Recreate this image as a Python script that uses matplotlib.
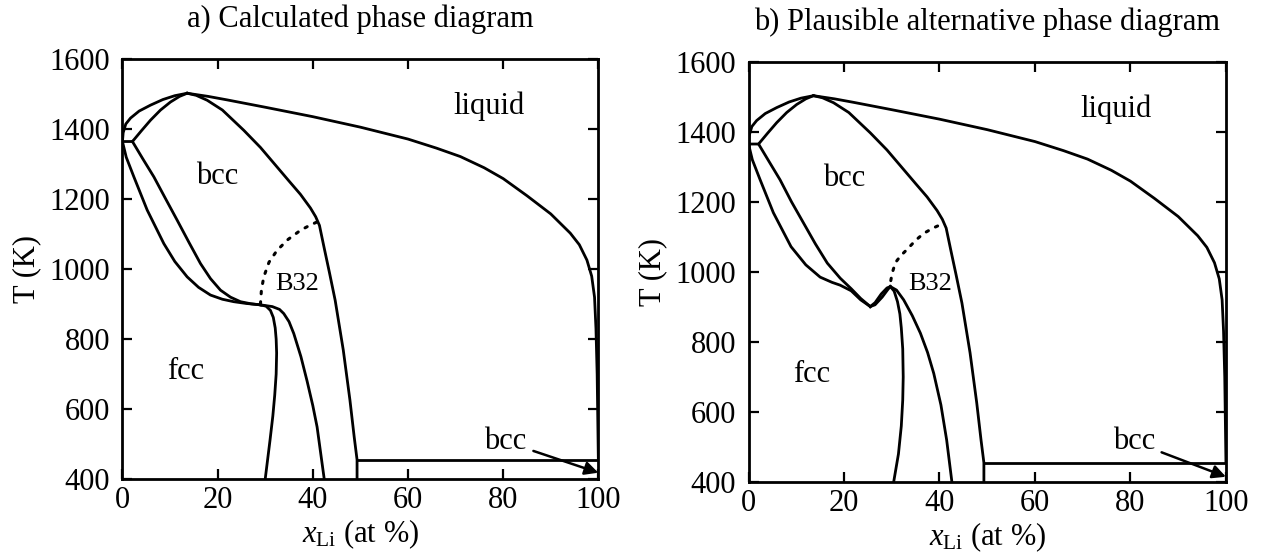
import numpy as np
import matplotlib
matplotlib.use('Agg')
import matplotlib.pyplot as plt

plt.rcParams['font.family'] = ['Liberation Serif', 'DejaVu Serif']
plt.rcParams['mathtext.fontset'] = 'custom'
plt.rcParams['mathtext.rm'] = 'Liberation Serif'
plt.rcParams['mathtext.it'] = 'Liberation Serif:italic'
plt.rcParams['font.size'] = 22

# shared boundaries (both panels)
liq_x = [0, 0.15, 0.7, 1.7, 3.5, 5.9, 8.5, 11, 13.6, 18, 22, 30, 40, 50, 60, 66, 71, 76, 80, 85, 90, 94.1, 96, 97.6, 98.6, 99.2, 99.5, 99.75, 100]
liq_T = [1365, 1390, 1415, 1432, 1452, 1469, 1485, 1496, 1503, 1494, 1484, 1463, 1436, 1406, 1372, 1346, 1322, 1290, 1259, 1210, 1158, 1103, 1070, 1026, 980, 920, 830, 700, 455]

sol_x = [0, 2.1, 4.0, 5.9, 8.0, 10.1, 12.0, 13.6]
sol_T = [1365, 1365, 1396, 1426, 1455, 1478, 1494, 1503]

bccr_x = [13.6, 15.5, 17.8, 21, 25.5, 29, 32.5, 35, 37.4, 39.5, 40.6, 41.4, 42.4, 43.5, 44.7, 46.4, 47.8, 48.7, 49.3, 49.3]
bccr_T = [1503, 1497, 1483, 1455, 1397, 1348, 1292, 1252, 1214, 1175, 1150, 1125, 1060, 990, 911, 769, 626, 520, 455, 400]

hor_x = [49.3, 100]
hor_T = [455, 455]

# panel a) calculated
a_out_x = [0, 0.8, 2.4, 5.2, 8.7, 11, 13.6, 16, 18.5, 21, 23.4, 26, 29]
a_out_T = [1365, 1320, 1264, 1169, 1073, 1022, 978, 948, 926, 914, 907, 902, 898]
a_in_x = [2.1, 4.3, 6.6, 9, 11.5, 14, 16.4, 18.5, 20.6, 22.7, 24.8, 27, 29]
a_in_T = [1365, 1315, 1264, 1203, 1140, 1076, 1016, 973, 940, 920, 907, 901, 898]
a_fcc_x = [29, 30.2, 31.1, 31.7, 32.1, 32.3, 32.4, 32.3, 32.0, 31.6, 31.0, 30.0]
a_fcc_T = [898, 894, 882, 862, 832, 800, 760, 700, 640, 580, 510, 400]
a_b32_x = [29, 31.5, 33.0, 33.9, 35, 36, 37.5, 38.8, 40.0, 40.9, 42.4]
a_b32_T = [898, 893, 885, 873, 850, 816, 750, 680, 610, 549, 400]
a_dot_x = [29, 29.2, 29.7, 30.8, 32.5, 34.8, 37.4, 39.3, 40.9]
a_dot_T = [900, 940, 978, 1020, 1054, 1085, 1111, 1125, 1135]

# panel b) plausible alternative
b_out_x = [0, 0.8, 2.4, 5.2, 8.9, 12, 15, 17.5, 19.2, 21.5, 23.5, 25.5]
b_out_T = [1365, 1320, 1264, 1169, 1072, 1020, 985, 970, 962, 946, 920, 901]
b_in_x = [2.1, 4.3, 6.6, 9, 11.5, 14, 16.5, 19.2, 21.5, 23.5, 25.5]
b_in_T = [1365, 1315, 1263, 1200, 1140, 1080, 1025, 982, 952, 924, 901]
b_up_x = [25.5, 26.5, 27.8, 29, 29.7]
b_up_T = [901, 912, 937, 954, 958]
b_lo_x = [25.5, 26.5, 28, 29.2, 29.7]
b_lo_T = [901, 906, 928, 950, 958]
b_fcc_x = [29.7, 30.5, 31.2, 31.7, 32.0, 32.3, 32.4, 32.3, 32.0, 31.4, 30.4]
b_fcc_T = [958, 945, 915, 880, 840, 780, 700, 634, 560, 480, 400]
b_b32_x = [29.7, 31, 32.5, 34.3, 36, 37.5, 38.8, 40.3, 41.5, 42.6]
b_b32_T = [958, 948, 920, 875, 825, 770, 710, 620, 520, 400]
b_dot_x = [29.8, 30.0, 30.3, 30.8, 31.8, 33.2, 35, 36.7, 38.8, 40.9]
b_dot_T = [975, 990, 1006, 1027, 1045, 1064, 1090, 1110, 1126, 1139]

xticks = [0, 20, 40, 60, 80, 100]
yticks = [400, 600, 800, 1000, 1200, 1400, 1600]

lw = 2.0
fig = plt.figure(figsize=(12.61, 5.57), dpi=100)
ax1 = fig.add_axes([0.0971, 0.140, 0.3774, 0.7535])
ax2 = fig.add_axes([0.5936, 0.1346, 0.3786, 0.7546])

def setup(ax, title):
  ax.set_xlim(0, 100)
  ax.set_ylim(400, 1600)
  ax.set_xticks(xticks)
  ax.set_yticks(yticks)
  ax.tick_params(direction='in', top=True, right=True, length=7, width=1.6)
  ax.tick_params(axis='x', pad=5)
  ax.tick_params(axis='y', pad=9)
  for s in ax.spines.values():
    s.set_linewidth(2.0)
  ax.set_xlabel(r'$x_{\mathrm{Li}}$ (at %)', labelpad=2)
  ax.set_ylabel('T (K)', labelpad=6)
  ax.set_title(title, fontsize=22, pad=23)
  ax.plot(liq_x, liq_T, 'k-', lw=lw)
  ax.plot(sol_x, sol_T, 'k-', lw=lw)
  ax.plot(bccr_x, bccr_T, 'k-', lw=lw)
  ax.plot(hor_x, hor_T, 'k-', lw=lw)
  ax.text(77, 1465, 'liquid', ha='center', va='center')
  ax.text(20, 1266, 'bcc', ha='center', va='center')
  ax.text(13.3, 707, 'fcc', ha='center', va='center')

setup(ax1, 'a) Calculated phase diagram')
for xs, ts in [(a_out_x, a_out_T), (a_in_x, a_in_T), (a_fcc_x, a_fcc_T), (a_b32_x, a_b32_T)]:
  ax1.plot(xs, ts, 'k-', lw=lw)
ax1.plot(a_dot_x, a_dot_T, color='k', lw=2.2, linestyle=(0, (0.8, 2.6)), dash_capstyle='round')
ax1.text(36.7, 959, 'B32', ha='center', va='center', fontsize=19)
ax1.annotate('bcc', xy=(100, 418), xytext=(80.5, 507), ha='center', va='center',
             arrowprops=dict(arrowstyle='-|>', color='k', lw=1.8, mutation_scale=20, shrinkA=3, shrinkB=0))

setup(ax2, 'b) Plausible alternative phase diagram')
for xs, ts in [(b_out_x, b_out_T), (b_in_x, b_in_T), (b_up_x, b_up_T), (b_lo_x, b_lo_T),
               (b_fcc_x, b_fcc_T), (b_b32_x, b_b32_T)]:
  ax2.plot(xs, ts, 'k-', lw=lw)
ax2.plot(b_dot_x, b_dot_T, color='k', lw=2.2, linestyle=(0, (0.8, 2.6)), dash_capstyle='round')
ax2.text(38.0, 966, 'B32', ha='center', va='center', fontsize=19)
ax2.annotate('bcc', xy=(100, 415), xytext=(80.7, 515), ha='center', va='center',
             arrowprops=dict(arrowstyle='-|>', color='k', lw=1.8, mutation_scale=20, shrinkA=3, shrinkB=0))

fig.savefig('out.png', dpi=100)
